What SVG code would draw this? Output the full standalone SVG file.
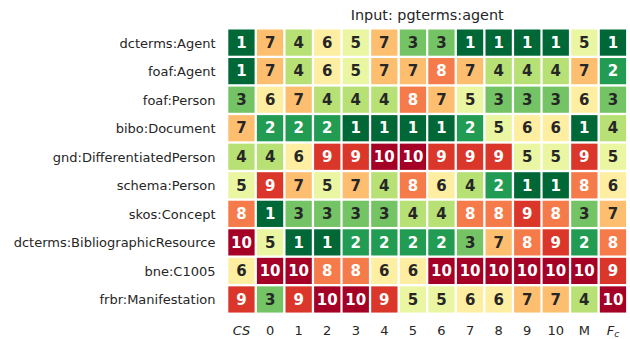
<svg xmlns="http://www.w3.org/2000/svg" width="630" height="339" viewBox="0 0 630 339">
<style>
text{font-family:"DejaVu Sans","Liberation Sans",sans-serif;fill:#262626}
.lab{font-size:13px;text-anchor:end}
.ax{font-size:13px;text-anchor:middle}
.ttl{font-size:14.4px;text-anchor:middle}
.w,.d{font-size:15px;font-weight:bold;text-anchor:middle}
.w{fill:#ffffff}
.c1{fill:#006837}.c2{fill:#229c52}.c3{fill:#74c365}.c4{fill:#b7e075}.c5{fill:#eaf6a2}
.c6{fill:#feeea2}.c7{fill:#fdbf6f}.c8{fill:#f67b4a}.c9{fill:#da372a}.c10{fill:#a50026}
</style>
<rect width="630" height="339" fill="#ffffff"/>
<text class="ttl" x="427.2" y="20">Input: pgterms:agent</text>

<g id="row-dcterms-Agent" transform="translate(0,28.3)">
<text class="lab" x="215.5" y="19.3">dcterms:Agent</text>
<rect class="c1" x="228.3" y="1.2" width="26.3" height="26.2"/><text class="w" x="241.5" y="19.5">1</text>
<rect class="c7" x="256.9" y="1.2" width="26.3" height="26.2"/><text class="d" x="270.1" y="19.5">7</text>
<rect class="c4" x="285.5" y="1.2" width="26.3" height="26.2"/><text class="d" x="298.6" y="19.5">4</text>
<rect class="c6" x="314.1" y="1.2" width="26.3" height="26.2"/><text class="d" x="327.2" y="19.5">6</text>
<rect class="c5" x="342.6" y="1.2" width="26.3" height="26.2"/><text class="d" x="355.8" y="19.5">5</text>
<rect class="c7" x="371.2" y="1.2" width="26.3" height="26.2"/><text class="d" x="384.3" y="19.5">7</text>
<rect class="c3" x="399.8" y="1.2" width="26.3" height="26.2"/><text class="d" x="412.9" y="19.5">3</text>
<rect class="c3" x="428.3" y="1.2" width="26.3" height="26.2"/><text class="d" x="441.5" y="19.5">3</text>
<rect class="c1" x="456.9" y="1.2" width="26.3" height="26.2"/><text class="w" x="470.1" y="19.5">1</text>
<rect class="c1" x="485.5" y="1.2" width="26.3" height="26.2"/><text class="w" x="498.6" y="19.5">1</text>
<rect class="c1" x="514.1" y="1.2" width="26.3" height="26.2"/><text class="w" x="527.2" y="19.5">1</text>
<rect class="c1" x="542.6" y="1.2" width="26.3" height="26.2"/><text class="w" x="555.8" y="19.5">1</text>
<rect class="c5" x="571.2" y="1.2" width="26.3" height="26.2"/><text class="d" x="584.3" y="19.5">5</text>
<rect class="c1" x="599.8" y="1.2" width="26.3" height="26.2"/><text class="w" x="612.9" y="19.5">1</text>
</g>

<g id="row-foaf-Agent" transform="translate(0,56.84)">
<text class="lab" x="215.5" y="19.3">foaf:Agent</text>
<rect class="c1" x="228.3" y="1.2" width="26.3" height="26.2"/><text class="w" x="241.5" y="19.5">1</text>
<rect class="c7" x="256.9" y="1.2" width="26.3" height="26.2"/><text class="d" x="270.1" y="19.5">7</text>
<rect class="c4" x="285.5" y="1.2" width="26.3" height="26.2"/><text class="d" x="298.6" y="19.5">4</text>
<rect class="c6" x="314.1" y="1.2" width="26.3" height="26.2"/><text class="d" x="327.2" y="19.5">6</text>
<rect class="c5" x="342.6" y="1.2" width="26.3" height="26.2"/><text class="d" x="355.8" y="19.5">5</text>
<rect class="c7" x="371.2" y="1.2" width="26.3" height="26.2"/><text class="d" x="384.3" y="19.5">7</text>
<rect class="c7" x="399.8" y="1.2" width="26.3" height="26.2"/><text class="d" x="412.9" y="19.5">7</text>
<rect class="c8" x="428.3" y="1.2" width="26.3" height="26.2"/><text class="w" x="441.5" y="19.5">8</text>
<rect class="c7" x="456.9" y="1.2" width="26.3" height="26.2"/><text class="d" x="470.1" y="19.5">7</text>
<rect class="c4" x="485.5" y="1.2" width="26.3" height="26.2"/><text class="d" x="498.6" y="19.5">4</text>
<rect class="c4" x="514.1" y="1.2" width="26.3" height="26.2"/><text class="d" x="527.2" y="19.5">4</text>
<rect class="c4" x="542.6" y="1.2" width="26.3" height="26.2"/><text class="d" x="555.8" y="19.5">4</text>
<rect class="c7" x="571.2" y="1.2" width="26.3" height="26.2"/><text class="d" x="584.3" y="19.5">7</text>
<rect class="c2" x="599.8" y="1.2" width="26.3" height="26.2"/><text class="w" x="612.9" y="19.5">2</text>
</g>

<g id="row-foaf-Person" transform="translate(0,85.38)">
<text class="lab" x="215.5" y="19.3">foaf:Person</text>
<rect class="c3" x="228.3" y="1.2" width="26.3" height="26.2"/><text class="d" x="241.5" y="19.5">3</text>
<rect class="c6" x="256.9" y="1.2" width="26.3" height="26.2"/><text class="d" x="270.1" y="19.5">6</text>
<rect class="c7" x="285.5" y="1.2" width="26.3" height="26.2"/><text class="d" x="298.6" y="19.5">7</text>
<rect class="c4" x="314.1" y="1.2" width="26.3" height="26.2"/><text class="d" x="327.2" y="19.5">4</text>
<rect class="c4" x="342.6" y="1.2" width="26.3" height="26.2"/><text class="d" x="355.8" y="19.5">4</text>
<rect class="c4" x="371.2" y="1.2" width="26.3" height="26.2"/><text class="d" x="384.3" y="19.5">4</text>
<rect class="c8" x="399.8" y="1.2" width="26.3" height="26.2"/><text class="w" x="412.9" y="19.5">8</text>
<rect class="c7" x="428.3" y="1.2" width="26.3" height="26.2"/><text class="d" x="441.5" y="19.5">7</text>
<rect class="c5" x="456.9" y="1.2" width="26.3" height="26.2"/><text class="d" x="470.1" y="19.5">5</text>
<rect class="c3" x="485.5" y="1.2" width="26.3" height="26.2"/><text class="d" x="498.6" y="19.5">3</text>
<rect class="c3" x="514.1" y="1.2" width="26.3" height="26.2"/><text class="d" x="527.2" y="19.5">3</text>
<rect class="c3" x="542.6" y="1.2" width="26.3" height="26.2"/><text class="d" x="555.8" y="19.5">3</text>
<rect class="c6" x="571.2" y="1.2" width="26.3" height="26.2"/><text class="d" x="584.3" y="19.5">6</text>
<rect class="c3" x="599.8" y="1.2" width="26.3" height="26.2"/><text class="d" x="612.9" y="19.5">3</text>
</g>

<g id="row-bibo-Document" transform="translate(0,113.92)">
<text class="lab" x="215.5" y="19.3">bibo:Document</text>
<rect class="c7" x="228.3" y="1.2" width="26.3" height="26.2"/><text class="d" x="241.5" y="19.5">7</text>
<rect class="c2" x="256.9" y="1.2" width="26.3" height="26.2"/><text class="w" x="270.1" y="19.5">2</text>
<rect class="c2" x="285.5" y="1.2" width="26.3" height="26.2"/><text class="w" x="298.6" y="19.5">2</text>
<rect class="c2" x="314.1" y="1.2" width="26.3" height="26.2"/><text class="w" x="327.2" y="19.5">2</text>
<rect class="c1" x="342.6" y="1.2" width="26.3" height="26.2"/><text class="w" x="355.8" y="19.5">1</text>
<rect class="c1" x="371.2" y="1.2" width="26.3" height="26.2"/><text class="w" x="384.3" y="19.5">1</text>
<rect class="c1" x="399.8" y="1.2" width="26.3" height="26.2"/><text class="w" x="412.9" y="19.5">1</text>
<rect class="c1" x="428.3" y="1.2" width="26.3" height="26.2"/><text class="w" x="441.5" y="19.5">1</text>
<rect class="c2" x="456.9" y="1.2" width="26.3" height="26.2"/><text class="w" x="470.1" y="19.5">2</text>
<rect class="c5" x="485.5" y="1.2" width="26.3" height="26.2"/><text class="d" x="498.6" y="19.5">5</text>
<rect class="c6" x="514.1" y="1.2" width="26.3" height="26.2"/><text class="d" x="527.2" y="19.5">6</text>
<rect class="c6" x="542.6" y="1.2" width="26.3" height="26.2"/><text class="d" x="555.8" y="19.5">6</text>
<rect class="c1" x="571.2" y="1.2" width="26.3" height="26.2"/><text class="w" x="584.3" y="19.5">1</text>
<rect class="c4" x="599.8" y="1.2" width="26.3" height="26.2"/><text class="d" x="612.9" y="19.5">4</text>
</g>

<g id="row-gnd-DifferentiatedPerson" transform="translate(0,142.46)">
<text class="lab" x="215.5" y="19.3">gnd:DifferentiatedPerson</text>
<rect class="c4" x="228.3" y="1.2" width="26.3" height="26.2"/><text class="d" x="241.5" y="19.5">4</text>
<rect class="c4" x="256.9" y="1.2" width="26.3" height="26.2"/><text class="d" x="270.1" y="19.5">4</text>
<rect class="c6" x="285.5" y="1.2" width="26.3" height="26.2"/><text class="d" x="298.6" y="19.5">6</text>
<rect class="c9" x="314.1" y="1.2" width="26.3" height="26.2"/><text class="w" x="327.2" y="19.5">9</text>
<rect class="c9" x="342.6" y="1.2" width="26.3" height="26.2"/><text class="w" x="355.8" y="19.5">9</text>
<rect class="c10" x="371.2" y="1.2" width="26.3" height="26.2"/><text class="w" x="384.3" y="19.5">10</text>
<rect class="c10" x="399.8" y="1.2" width="26.3" height="26.2"/><text class="w" x="412.9" y="19.5">10</text>
<rect class="c9" x="428.3" y="1.2" width="26.3" height="26.2"/><text class="w" x="441.5" y="19.5">9</text>
<rect class="c9" x="456.9" y="1.2" width="26.3" height="26.2"/><text class="w" x="470.1" y="19.5">9</text>
<rect class="c9" x="485.5" y="1.2" width="26.3" height="26.2"/><text class="w" x="498.6" y="19.5">9</text>
<rect class="c5" x="514.1" y="1.2" width="26.3" height="26.2"/><text class="d" x="527.2" y="19.5">5</text>
<rect class="c5" x="542.6" y="1.2" width="26.3" height="26.2"/><text class="d" x="555.8" y="19.5">5</text>
<rect class="c9" x="571.2" y="1.2" width="26.3" height="26.2"/><text class="w" x="584.3" y="19.5">9</text>
<rect class="c5" x="599.8" y="1.2" width="26.3" height="26.2"/><text class="d" x="612.9" y="19.5">5</text>
</g>

<g id="row-schema-Person" transform="translate(0,171)">
<text class="lab" x="215.5" y="19.3">schema:Person</text>
<rect class="c5" x="228.3" y="1.2" width="26.3" height="26.2"/><text class="d" x="241.5" y="19.5">5</text>
<rect class="c9" x="256.9" y="1.2" width="26.3" height="26.2"/><text class="w" x="270.1" y="19.5">9</text>
<rect class="c7" x="285.5" y="1.2" width="26.3" height="26.2"/><text class="d" x="298.6" y="19.5">7</text>
<rect class="c5" x="314.1" y="1.2" width="26.3" height="26.2"/><text class="d" x="327.2" y="19.5">5</text>
<rect class="c7" x="342.6" y="1.2" width="26.3" height="26.2"/><text class="d" x="355.8" y="19.5">7</text>
<rect class="c4" x="371.2" y="1.2" width="26.3" height="26.2"/><text class="d" x="384.3" y="19.5">4</text>
<rect class="c8" x="399.8" y="1.2" width="26.3" height="26.2"/><text class="w" x="412.9" y="19.5">8</text>
<rect class="c6" x="428.3" y="1.2" width="26.3" height="26.2"/><text class="d" x="441.5" y="19.5">6</text>
<rect class="c4" x="456.9" y="1.2" width="26.3" height="26.2"/><text class="d" x="470.1" y="19.5">4</text>
<rect class="c2" x="485.5" y="1.2" width="26.3" height="26.2"/><text class="w" x="498.6" y="19.5">2</text>
<rect class="c1" x="514.1" y="1.2" width="26.3" height="26.2"/><text class="w" x="527.2" y="19.5">1</text>
<rect class="c1" x="542.6" y="1.2" width="26.3" height="26.2"/><text class="w" x="555.8" y="19.5">1</text>
<rect class="c8" x="571.2" y="1.2" width="26.3" height="26.2"/><text class="w" x="584.3" y="19.5">8</text>
<rect class="c6" x="599.8" y="1.2" width="26.3" height="26.2"/><text class="d" x="612.9" y="19.5">6</text>
</g>

<g id="row-skos-Concept" transform="translate(0,199.54)">
<text class="lab" x="215.5" y="19.3">skos:Concept</text>
<rect class="c8" x="228.3" y="1.2" width="26.3" height="26.2"/><text class="w" x="241.5" y="19.5">8</text>
<rect class="c1" x="256.9" y="1.2" width="26.3" height="26.2"/><text class="w" x="270.1" y="19.5">1</text>
<rect class="c3" x="285.5" y="1.2" width="26.3" height="26.2"/><text class="d" x="298.6" y="19.5">3</text>
<rect class="c3" x="314.1" y="1.2" width="26.3" height="26.2"/><text class="d" x="327.2" y="19.5">3</text>
<rect class="c3" x="342.6" y="1.2" width="26.3" height="26.2"/><text class="d" x="355.8" y="19.5">3</text>
<rect class="c3" x="371.2" y="1.2" width="26.3" height="26.2"/><text class="d" x="384.3" y="19.5">3</text>
<rect class="c4" x="399.8" y="1.2" width="26.3" height="26.2"/><text class="d" x="412.9" y="19.5">4</text>
<rect class="c4" x="428.3" y="1.2" width="26.3" height="26.2"/><text class="d" x="441.5" y="19.5">4</text>
<rect class="c8" x="456.9" y="1.2" width="26.3" height="26.2"/><text class="w" x="470.1" y="19.5">8</text>
<rect class="c8" x="485.5" y="1.2" width="26.3" height="26.2"/><text class="w" x="498.6" y="19.5">8</text>
<rect class="c9" x="514.1" y="1.2" width="26.3" height="26.2"/><text class="w" x="527.2" y="19.5">9</text>
<rect class="c8" x="542.6" y="1.2" width="26.3" height="26.2"/><text class="w" x="555.8" y="19.5">8</text>
<rect class="c3" x="571.2" y="1.2" width="26.3" height="26.2"/><text class="d" x="584.3" y="19.5">3</text>
<rect class="c7" x="599.8" y="1.2" width="26.3" height="26.2"/><text class="d" x="612.9" y="19.5">7</text>
</g>

<g id="row-dcterms-BibliographicResource" transform="translate(0,228.08)">
<text class="lab" x="215.5" y="19.3">dcterms:BibliographicResource</text>
<rect class="c10" x="228.3" y="1.2" width="26.3" height="26.2"/><text class="w" x="241.5" y="19.5">10</text>
<rect class="c5" x="256.9" y="1.2" width="26.3" height="26.2"/><text class="d" x="270.1" y="19.5">5</text>
<rect class="c1" x="285.5" y="1.2" width="26.3" height="26.2"/><text class="w" x="298.6" y="19.5">1</text>
<rect class="c1" x="314.1" y="1.2" width="26.3" height="26.2"/><text class="w" x="327.2" y="19.5">1</text>
<rect class="c2" x="342.6" y="1.2" width="26.3" height="26.2"/><text class="w" x="355.8" y="19.5">2</text>
<rect class="c2" x="371.2" y="1.2" width="26.3" height="26.2"/><text class="w" x="384.3" y="19.5">2</text>
<rect class="c2" x="399.8" y="1.2" width="26.3" height="26.2"/><text class="w" x="412.9" y="19.5">2</text>
<rect class="c2" x="428.3" y="1.2" width="26.3" height="26.2"/><text class="w" x="441.5" y="19.5">2</text>
<rect class="c3" x="456.9" y="1.2" width="26.3" height="26.2"/><text class="d" x="470.1" y="19.5">3</text>
<rect class="c7" x="485.5" y="1.2" width="26.3" height="26.2"/><text class="d" x="498.6" y="19.5">7</text>
<rect class="c8" x="514.1" y="1.2" width="26.3" height="26.2"/><text class="w" x="527.2" y="19.5">8</text>
<rect class="c9" x="542.6" y="1.2" width="26.3" height="26.2"/><text class="w" x="555.8" y="19.5">9</text>
<rect class="c2" x="571.2" y="1.2" width="26.3" height="26.2"/><text class="w" x="584.3" y="19.5">2</text>
<rect class="c8" x="599.8" y="1.2" width="26.3" height="26.2"/><text class="w" x="612.9" y="19.5">8</text>
</g>

<g id="row-bne-C1005" transform="translate(0,256.62)">
<text class="lab" x="215.5" y="19.3">bne:C1005</text>
<rect class="c6" x="228.3" y="1.2" width="26.3" height="26.2"/><text class="d" x="241.5" y="19.5">6</text>
<rect class="c10" x="256.9" y="1.2" width="26.3" height="26.2"/><text class="w" x="270.1" y="19.5">10</text>
<rect class="c10" x="285.5" y="1.2" width="26.3" height="26.2"/><text class="w" x="298.6" y="19.5">10</text>
<rect class="c8" x="314.1" y="1.2" width="26.3" height="26.2"/><text class="w" x="327.2" y="19.5">8</text>
<rect class="c8" x="342.6" y="1.2" width="26.3" height="26.2"/><text class="w" x="355.8" y="19.5">8</text>
<rect class="c6" x="371.2" y="1.2" width="26.3" height="26.2"/><text class="d" x="384.3" y="19.5">6</text>
<rect class="c6" x="399.8" y="1.2" width="26.3" height="26.2"/><text class="d" x="412.9" y="19.5">6</text>
<rect class="c10" x="428.3" y="1.2" width="26.3" height="26.2"/><text class="w" x="441.5" y="19.5">10</text>
<rect class="c10" x="456.9" y="1.2" width="26.3" height="26.2"/><text class="w" x="470.1" y="19.5">10</text>
<rect class="c10" x="485.5" y="1.2" width="26.3" height="26.2"/><text class="w" x="498.6" y="19.5">10</text>
<rect class="c10" x="514.1" y="1.2" width="26.3" height="26.2"/><text class="w" x="527.2" y="19.5">10</text>
<rect class="c10" x="542.6" y="1.2" width="26.3" height="26.2"/><text class="w" x="555.8" y="19.5">10</text>
<rect class="c10" x="571.2" y="1.2" width="26.3" height="26.2"/><text class="w" x="584.3" y="19.5">10</text>
<rect class="c9" x="599.8" y="1.2" width="26.3" height="26.2"/><text class="w" x="612.9" y="19.5">9</text>
</g>

<g id="row-frbr-Manifestation" transform="translate(0,285.16)">
<text class="lab" x="215.5" y="19.3">frbr:Manifestation</text>
<rect class="c9" x="228.3" y="1.2" width="26.3" height="26.2"/><text class="w" x="241.5" y="19.5">9</text>
<rect class="c3" x="256.9" y="1.2" width="26.3" height="26.2"/><text class="d" x="270.1" y="19.5">3</text>
<rect class="c9" x="285.5" y="1.2" width="26.3" height="26.2"/><text class="w" x="298.6" y="19.5">9</text>
<rect class="c10" x="314.1" y="1.2" width="26.3" height="26.2"/><text class="w" x="327.2" y="19.5">10</text>
<rect class="c10" x="342.6" y="1.2" width="26.3" height="26.2"/><text class="w" x="355.8" y="19.5">10</text>
<rect class="c9" x="371.2" y="1.2" width="26.3" height="26.2"/><text class="w" x="384.3" y="19.5">9</text>
<rect class="c5" x="399.8" y="1.2" width="26.3" height="26.2"/><text class="d" x="412.9" y="19.5">5</text>
<rect class="c5" x="428.3" y="1.2" width="26.3" height="26.2"/><text class="d" x="441.5" y="19.5">5</text>
<rect class="c6" x="456.9" y="1.2" width="26.3" height="26.2"/><text class="d" x="470.1" y="19.5">6</text>
<rect class="c6" x="485.5" y="1.2" width="26.3" height="26.2"/><text class="d" x="498.6" y="19.5">6</text>
<rect class="c7" x="514.1" y="1.2" width="26.3" height="26.2"/><text class="d" x="527.2" y="19.5">7</text>
<rect class="c7" x="542.6" y="1.2" width="26.3" height="26.2"/><text class="d" x="555.8" y="19.5">7</text>
<rect class="c4" x="571.2" y="1.2" width="26.3" height="26.2"/><text class="d" x="584.3" y="19.5">4</text>
<rect class="c10" x="599.8" y="1.2" width="26.3" height="26.2"/><text class="w" x="612.9" y="19.5">10</text>
</g>

<g id="x-axis-labels">
<text class="ax" x="241.5" y="334.5" font-style="italic">CS</text>
<text class="ax" x="270.1" y="334.5">0</text>
<text class="ax" x="298.6" y="334.5">1</text>
<text class="ax" x="327.2" y="334.5">2</text>
<text class="ax" x="355.8" y="334.5">3</text>
<text class="ax" x="384.3" y="334.5">4</text>
<text class="ax" x="412.9" y="334.5">5</text>
<text class="ax" x="441.5" y="334.5">6</text>
<text class="ax" x="470.1" y="334.5">7</text>
<text class="ax" x="498.6" y="334.5">8</text>
<text class="ax" x="527.2" y="334.5">9</text>
<text class="ax" x="555.8" y="334.5">10</text>
<text class="ax" x="584.3" y="334.5">M</text>
<text class="ax" x="612.9" y="334.5"><tspan font-style="italic">F</tspan><tspan font-style="italic" font-size="9" dy="2.5">c</tspan></text>
</g>
</svg>
